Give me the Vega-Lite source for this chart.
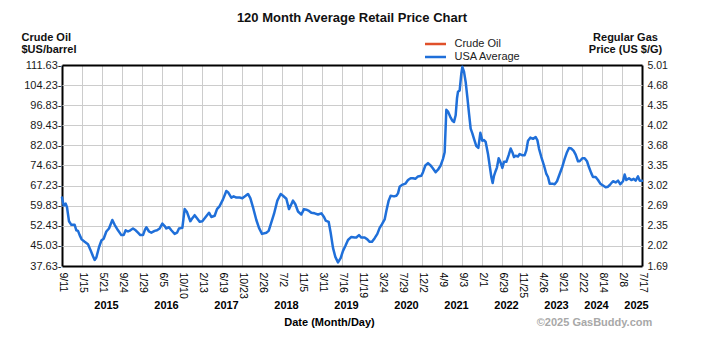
{
  "$schema": "https://vega.github.io/schema/vega-lite/v6.json",
  "autosize": "none",
  "width": 580,
  "height": 201,
  "padding": {"left": 62, "top": 65, "right": 66, "bottom": 85},
  "background": "#ffffff",
  "title": {"text": "120 Month Average Retail Price Chart", "fontSize": 13, "fontWeight": "bold", "anchor": "middle", "color": "#111111", "offset": 6},
  "config": {
    "font": "Liberation Sans",
    "view": {"stroke": null},
    "axis": {"labelOverlap": false, "labelFlush": false}
  },
  "data": {"values": [
    {"i":0,"p":2.82},{"i":0.083,"p":2.69},{"i":0.183,"p":2.72},{"i":0.25,"p":2.66},{"i":0.35,"p":2.43},{"i":0.467,"p":2.37},{"i":0.633,"p":2.37},{"i":0.717,"p":2.28},{"i":0.8,"p":2.27},{"i":0.883,"p":2.2},{"i":0.983,"p":2.13},{"i":1.133,"p":2.09},{"i":1.3,"p":2.05},{"i":1.417,"p":1.96},{"i":1.55,"p":1.85},{"i":1.633,"p":1.79},{"i":1.717,"p":1.83},{"i":1.85,"p":2.0},{"i":1.967,"p":2.11},{"i":2.083,"p":2.14},{"i":2.217,"p":2.26},{"i":2.35,"p":2.31},{"i":2.517,"p":2.45},{"i":2.633,"p":2.37},{"i":2.8,"p":2.28},{"i":2.967,"p":2.2},{"i":3.083,"p":2.2},{"i":3.183,"p":2.28},{"i":3.3,"p":2.26},{"i":3.417,"p":2.28},{"i":3.55,"p":2.31},{"i":3.683,"p":2.28},{"i":3.8,"p":2.24},{"i":3.917,"p":2.2},{"i":4.05,"p":2.2},{"i":4.15,"p":2.29},{"i":4.217,"p":2.33},{"i":4.35,"p":2.26},{"i":4.467,"p":2.24},{"i":4.633,"p":2.27},{"i":4.75,"p":2.28},{"i":4.883,"p":2.31},{"i":5.017,"p":2.39},{"i":5.133,"p":2.35},{"i":5.217,"p":2.31},{"i":5.35,"p":2.33},{"i":5.467,"p":2.28},{"i":5.633,"p":2.22},{"i":5.75,"p":2.24},{"i":5.85,"p":2.31},{"i":6.017,"p":2.32},{"i":6.133,"p":2.63},{"i":6.25,"p":2.58},{"i":6.417,"p":2.43},{"i":6.517,"p":2.48},{"i":6.633,"p":2.53},{"i":6.75,"p":2.48},{"i":6.883,"p":2.42},{"i":7.017,"p":2.43},{"i":7.183,"p":2.5},{"i":7.35,"p":2.57},{"i":7.467,"p":2.5},{"i":7.633,"p":2.52},{"i":7.75,"p":2.63},{"i":7.883,"p":2.68},{"i":8.05,"p":2.79},{"i":8.217,"p":2.93},{"i":8.3,"p":2.91},{"i":8.467,"p":2.82},{"i":8.583,"p":2.84},{"i":8.717,"p":2.82},{"i":8.883,"p":2.82},{"i":9.017,"p":2.81},{"i":9.183,"p":2.85},{"i":9.3,"p":2.88},{"i":9.417,"p":2.81},{"i":9.55,"p":2.66},{"i":9.717,"p":2.45},{"i":9.85,"p":2.32},{"i":10.0,"p":2.22},{"i":10.217,"p":2.24},{"i":10.333,"p":2.27},{"i":10.467,"p":2.41},{"i":10.6,"p":2.55},{"i":10.767,"p":2.77},{"i":10.933,"p":2.88},{"i":11.05,"p":2.85},{"i":11.217,"p":2.8},{"i":11.35,"p":2.63},{"i":11.467,"p":2.71},{"i":11.55,"p":2.77},{"i":11.667,"p":2.71},{"i":11.8,"p":2.59},{"i":11.967,"p":2.54},{"i":12.1,"p":2.63},{"i":12.217,"p":2.62},{"i":12.35,"p":2.6},{"i":12.467,"p":2.57},{"i":12.633,"p":2.56},{"i":12.8,"p":2.54},{"i":12.967,"p":2.56},{"i":13.1,"p":2.5},{"i":13.183,"p":2.44},{"i":13.333,"p":2.42},{"i":13.433,"p":2.24},{"i":13.55,"p":1.99},{"i":13.667,"p":1.84},{"i":13.8,"p":1.75},{"i":13.933,"p":1.82},{"i":14.05,"p":1.94},{"i":14.167,"p":2.02},{"i":14.3,"p":2.12},{"i":14.467,"p":2.17},{"i":14.633,"p":2.16},{"i":14.717,"p":2.16},{"i":14.85,"p":2.2},{"i":14.967,"p":2.16},{"i":15.133,"p":2.16},{"i":15.267,"p":2.13},{"i":15.383,"p":2.09},{"i":15.5,"p":2.09},{"i":15.633,"p":2.15},{"i":15.767,"p":2.22},{"i":15.883,"p":2.32},{"i":16.0,"p":2.38},{"i":16.133,"p":2.46},{"i":16.217,"p":2.6},{"i":16.333,"p":2.77},{"i":16.433,"p":2.85},{"i":16.6,"p":2.84},{"i":16.717,"p":2.85},{"i":16.8,"p":2.89},{"i":16.883,"p":3.0},{"i":17.0,"p":3.03},{"i":17.167,"p":3.05},{"i":17.3,"p":3.11},{"i":17.433,"p":3.14},{"i":17.55,"p":3.14},{"i":17.667,"p":3.13},{"i":17.8,"p":3.17},{"i":17.967,"p":3.18},{"i":18.05,"p":3.24},{"i":18.167,"p":3.35},{"i":18.3,"p":3.39},{"i":18.433,"p":3.35},{"i":18.55,"p":3.3},{"i":18.683,"p":3.24},{"i":18.8,"p":3.28},{"i":18.933,"p":3.35},{"i":19.05,"p":3.46},{"i":19.133,"p":3.57},{"i":19.217,"p":4.27},{"i":19.3,"p":4.24},{"i":19.433,"p":4.14},{"i":19.517,"p":4.09},{"i":19.6,"p":4.07},{"i":19.683,"p":4.18},{"i":19.75,"p":4.46},{"i":19.8,"p":4.57},{"i":19.883,"p":4.59},{"i":19.967,"p":4.87},{"i":20.017,"p":4.98},{"i":20.1,"p":4.9},{"i":20.183,"p":4.73},{"i":20.267,"p":4.48},{"i":20.35,"p":4.21},{"i":20.433,"p":3.96},{"i":20.517,"p":3.88},{"i":20.6,"p":3.79},{"i":20.717,"p":3.67},{"i":20.817,"p":3.64},{"i":20.917,"p":3.89},{"i":21.017,"p":3.76},{"i":21.1,"p":3.77},{"i":21.183,"p":3.74},{"i":21.3,"p":3.54},{"i":21.383,"p":3.35},{"i":21.467,"p":3.16},{"i":21.533,"p":3.06},{"i":21.6,"p":3.18},{"i":21.683,"p":3.26},{"i":21.75,"p":3.32},{"i":21.833,"p":3.47},{"i":21.917,"p":3.41},{"i":22.017,"p":3.31},{"i":22.1,"p":3.41},{"i":22.217,"p":3.41},{"i":22.333,"p":3.52},{"i":22.433,"p":3.63},{"i":22.517,"p":3.57},{"i":22.6,"p":3.49},{"i":22.683,"p":3.51},{"i":22.8,"p":3.5},{"i":22.883,"p":3.54},{"i":23.0,"p":3.52},{"i":23.133,"p":3.52},{"i":23.217,"p":3.6},{"i":23.3,"p":3.76},{"i":23.417,"p":3.81},{"i":23.55,"p":3.79},{"i":23.683,"p":3.82},{"i":23.767,"p":3.77},{"i":23.85,"p":3.63},{"i":23.967,"p":3.49},{"i":24.1,"p":3.35},{"i":24.217,"p":3.21},{"i":24.3,"p":3.16},{"i":24.383,"p":3.05},{"i":24.517,"p":3.05},{"i":24.633,"p":3.04},{"i":24.75,"p":3.09},{"i":24.883,"p":3.21},{"i":25.017,"p":3.33},{"i":25.133,"p":3.46},{"i":25.25,"p":3.57},{"i":25.35,"p":3.64},{"i":25.467,"p":3.63},{"i":25.583,"p":3.59},{"i":25.683,"p":3.53},{"i":25.8,"p":3.42},{"i":25.883,"p":3.42},{"i":26.017,"p":3.47},{"i":26.133,"p":3.47},{"i":26.25,"p":3.42},{"i":26.35,"p":3.32},{"i":26.467,"p":3.22},{"i":26.55,"p":3.16},{"i":26.683,"p":3.16},{"i":26.8,"p":3.11},{"i":26.917,"p":3.05},{"i":27.05,"p":3.02},{"i":27.183,"p":2.99},{"i":27.3,"p":3.0},{"i":27.417,"p":3.04},{"i":27.55,"p":3.09},{"i":27.683,"p":3.07},{"i":27.8,"p":3.1},{"i":27.917,"p":3.04},{"i":28.05,"p":3.09},{"i":28.133,"p":3.2},{"i":28.217,"p":3.11},{"i":28.35,"p":3.14},{"i":28.467,"p":3.11},{"i":28.583,"p":3.13},{"i":28.683,"p":3.1},{"i":28.8,"p":3.17},{"i":28.883,"p":3.1},{"i":29.0,"p":3.1}
  ]},
  "layer": [
    {
      "mark": {"type": "line", "strokeWidth": 2.5, "strokeJoin": "round", "strokeCap": "round"},
      "encoding": {
        "x": {
          "field": "i", "type": "quantitative",
          "scale": {"domain": [0, 29], "nice": false, "zero": false},
          "axis": {
            "orient": "bottom",
            "values": [0,1,2,3,4,5,6,7,8,9,10,11,12,13,14,15,16,17,18,19,20,21,22,23,24,25,26,27,28,29],
            "labelExpr": "['9/11','1/15','5/21','9/24','1/29','6/5','10/10','2/13','6/19','10/23','2/26','7/2','11/5','3/11','7/16','11/19','3/24','7/29','12/2','4/9','9/3','2/1','6/29','11/25','4/26','9/21','2/22','8/14','2/8','7/17'][round(datum.value)]",
            "labelAngle": 90, "labelAlign": "left", "labelBaseline": "middle",
            "labelPadding": 6, "labelFontSize": 10.5, "labelColor": "#000000",
            "ticks": false, "domain": false,
            "grid": true,
            "gridColor": {"condition": {"test": "datum.value === 0 || datum.value === 29", "value": "#000000"}, "value": "#cccccc"},
            "gridWidth": {"condition": {"test": "datum.value === 0 || datum.value === 29", "value": 2}, "value": 1},
            "title": "©2025 GasBuddy.com",
            "titleColor": "#a8a8a8", "titleFontSize": 11, "titleFontWeight": "bold",
            "titleAngle": 0, "titleAlign": "center", "titleBaseline": "middle",
            "titleX": 532, "titleY": 56
          }
        },
        "y": {
          "field": "p", "type": "quantitative",
          "scale": {"domain": [1.69, 5.01], "nice": false, "zero": false},
          "axis": {
            "orient": "right",
            "values": [1.69, 2.022, 2.354, 2.686, 3.018, 3.35, 3.682, 4.014, 4.346, 4.678, 5.01],
            "labelExpr": "['1.69','2.02','2.35','2.69','3.02','3.35','3.68','4.02','4.35','4.68','5.01'][round((datum.value - 1.69) / 0.332)]",
            "labelFontSize": 10.5, "labelColor": "#1a1a1a", "labelPadding": 5,
            "ticks": false, "domain": false,
            "grid": true,
            "gridColor": {"condition": {"test": "abs(datum.value - 1.69) < 0.001 || abs(datum.value - 5.01) < 0.001", "value": "#000000"}, "value": "#cccccc"},
            "gridWidth": {"condition": {"test": "abs(datum.value - 1.69) < 0.001 || abs(datum.value - 5.01) < 0.001", "value": 2}, "value": 1},
            "title": ["Regular Gas", "Price (US $/G)"],
            "titleAngle": 0, "titleAlign": "center", "titleBaseline": "alphabetic",
            "titleX": -17, "titleY": -25, "titleLineHeight": 12,
            "titleFontSize": 11, "titleFontWeight": "bold", "titleColor": "#111111"
          }
        },
        "color": {
          "datum": "USA Average", "type": "nominal",
          "scale": {"domain": ["Crude Oil", "USA Average"], "range": ["#e0502a", "#1f6fd9"]},
          "legend": {
            "orient": "none", "legendX": 368, "legendY": -26.5, "title": null,
            "symbolType": "M-3.5,0H3.5", "symbolSize": 36, "symbolStrokeWidth": 2.5,
            "labelFontSize": 11, "labelColor": "#222222", "labelOffset": 13.5,
            "rowPadding": 1
          }
        }
      }
    },
    {
      "mark": {"type": "point", "opacity": 0},
      "encoding": {
        "x": {
          "field": "i", "type": "quantitative",
          "scale": {"domain": [0, 29], "nice": false, "zero": false},
          "axis": {
            "orient": "bottom", "offset": 33,
            "values": [2.2, 5.2, 8.2, 11.2, 14.2, 17.2, 19.7, 22.2, 24.7, 26.7, 28.7],
            "labelExpr": "datum.value < 3 ? '2015' : datum.value < 6 ? '2016' : datum.value < 9 ? '2017' : datum.value < 12 ? '2018' : datum.value < 15 ? '2019' : datum.value < 18 ? '2020' : datum.value < 21 ? '2021' : datum.value < 23 ? '2022' : datum.value < 25 ? '2023' : datum.value < 27 ? '2024' : '2025'",
            "labelAngle": 0, "labelAlign": "center", "labelBaseline": "top",
            "labelPadding": 0, "labelFontSize": 11, "labelFontWeight": "bold", "labelColor": "#000000",
            "ticks": false, "domain": false, "grid": false,
            "title": "Date (Month/Day)",
            "titleFontSize": 11, "titleFontWeight": "bold", "titleColor": "#000000",
            "titleAngle": 0, "titleAlign": "center", "titleBaseline": "middle",
            "titleX": 267, "titleY": 23
          }
        },
        "y": {
          "datum": 37.63, "type": "quantitative",
          "scale": {"domain": [37.63, 111.63], "nice": false, "zero": false},
          "axis": {
            "orient": "left",
            "values": [37.63, 45.03, 52.43, 59.83, 67.23, 74.63, 82.03, 89.43, 96.83, 104.23, 111.63],
            "labelExpr": "format(datum.value, '.2f') + '-'",
            "labelFontSize": 11, "labelColor": "#1a1a1a", "labelPadding": 1,
            "ticks": false, "domain": false, "grid": false,
            "title": ["Crude Oil", "$US/barrel"],
            "titleAngle": 0, "titleAlign": "left", "titleBaseline": "alphabetic",
            "titleX": -41, "titleY": -25, "titleLineHeight": 12,
            "titleFontSize": 11, "titleFontWeight": "bold", "titleColor": "#111111"
          }
        }
      }
    }
  ],
  "resolve": {"scale": {"x": "independent", "y": "independent"}}
}
